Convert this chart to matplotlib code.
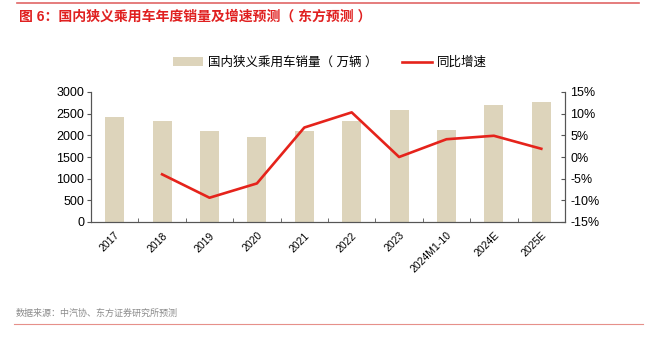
import matplotlib
matplotlib.use("Agg")
import matplotlib.pyplot as plt
from matplotlib.ticker import FuncFormatter, FixedLocator

plt.rcParams['font.family'] = ['Liberation Sans', 'Noto Sans CJK SC', 'DejaVu Sans']

# data
years = ['2017', '2018', '2019', '2020', '2021', '2022', '2023',
         '2024M1-10', '2024E', '2025E']
sales = [2420, 2320, 2103, 1972, 2111, 2327, 2575, 2126, 2706, 2760]   # 万辆
growth_years = years[1:]
growth = [-4.0, -9.4, -6.1, 6.8, 10.3, 0.0, 4.1, 4.9, 1.9]           # %

bar_color = '#DDD4BB'
line_color = '#E5231B'
spine_color = '#555555'

fig = plt.figure(figsize=(6.49, 3.45), dpi=100)
ax = fig.add_axes([91/649, 123/345, 474/649, 130/345])
ax2 = ax.twinx()

x = list(range(len(years)))
ax.bar(x, sales, width=0.4, color=bar_color, label='国内狭义乘用车销量（ 万辆 ）', zorder=2)
gx = [years.index(y) for y in growth_years]
ax2.plot(gx, growth, color=line_color, lw=1.9, label='同比增速', zorder=3)

ax.set_xlim(-0.5, len(years) - 0.5)
ax.set_ylim(0, 3000)
ax.set_yticks(range(0, 3001, 500))
ax2.set_ylim(-15, 15)
ax2.set_yticks(range(-15, 16, 5))
ax2.yaxis.set_major_formatter(FuncFormatter(lambda v, p: f'{int(v)}%'))

# category labels at centres, tick marks at boundaries
ax.set_xticks(x)
ax.set_xticklabels(years, rotation=45, ha='right', va='top', rotation_mode='anchor',
                   fontsize=7.5)
ax.tick_params(axis='x', length=0, pad=6)
ax.xaxis.set_minor_locator(FixedLocator([i + 0.5 for i in range(-1, len(years))]))
ax.tick_params(axis='x', which='minor', direction='in', length=3, color=spine_color)

ax.tick_params(axis='y', labelsize=9, length=3, color=spine_color, pad=2)
ax2.tick_params(axis='y', labelsize=9, length=3, direction='in', color=spine_color, pad=4)

for a in (ax, ax2):
    a.spines['top'].set_visible(False)
    for s in ('left', 'right', 'bottom'):
        a.spines[s].set_color(spine_color)
        a.spines[s].set_linewidth(0.8)

h1, l1 = ax.get_legend_handles_labels()
h2, l2 = ax2.get_legend_handles_labels()
fig.legend(h1 + h2, l1 + l2, loc='center', bbox_to_anchor=(330/649, 1 - 63/345),
           ncol=2, frameon=False, fontsize=9, handlelength=2.4, handleheight=0.7,
           handletextpad=0.4, columnspacing=2.0)

# title, source and decorative rules
fig.text(19/649, 1 - 17/345, '图 6：国内狭义乘用车年度销量及增速预测（ 东方预测 ）',
         color='#E02020', fontsize=10, fontweight='bold', va='center', ha='left')
fig.text(16/649, 1 - 313/345, '数据来源：中汽协、东方证券研究所预测',
         color='#8C8C8C', fontsize=6.5, va='center', ha='left')
fig.add_artist(plt.Line2D([17/649, 639/649], [1 - 3/345, 1 - 3/345],
                          color='#E06666', lw=1.2))
fig.add_artist(plt.Line2D([14/649, 643/649], [1 - 324/345, 1 - 324/345],
                          color='#E6908A', lw=0.8))

fig.savefig('out.png', dpi=100)
